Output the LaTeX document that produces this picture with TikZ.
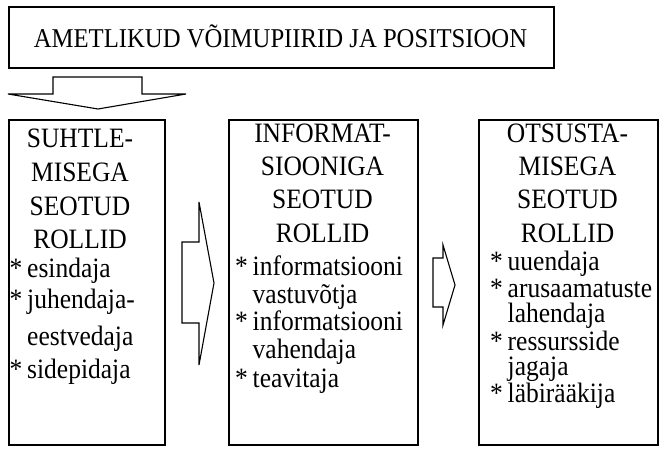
\documentclass[tikz,border=0pt]{standalone}
\usepackage{fontspec}
\setmainfont{Liberation Serif}
\newcommand\talltxt[1]{\scalebox{1}[1.1]{#1}}
\newcommand\bullettxt[1]{\talltxt{\makebox[17.5pt][l]{*}#1}}
\newcommand\contttxt[1]{\talltxt{\hspace*{17.5pt}#1}}
\begin{document}
\begin{tikzpicture}[x=1pt,y=-1pt,
  frame/.style={draw, line width=1.8pt, inner sep=0pt, anchor=north west},
  blockarrow/.style={draw, line width=1.1pt, line join=miter},
  headtxt/.style={inner sep=0pt, anchor=base, font=\fontsize{25.5}{30}\selectfont},
  itemtxt/.style={inner sep=0pt, anchor=base west, font=\fontsize{25.5}{30}\selectfont},
  toptxt/.style={inner sep=0pt, anchor=base, font=\fontsize{24.7}{30}\selectfont}]
\useasboundingbox (0,0) rectangle (661,452);

% top box
\node[frame, minimum width=545pt, minimum height=61pt] (top) at (8,6) {};
\node[toptxt] (toplabel) at (280.5,48) {\talltxt{AMETLIKUD VÕIMUPIIRID JA POSITSIOON}};

% down arrow
\draw[blockarrow] (53,77) -- (142,77) -- (142,94) -- (186,94) -- (98,109) -- (8,94) -- (53,94) -- cycle;

% boxes
\node[frame, minimum width=156pt, minimum height=325pt] (b1) at (8,119) {};
\node[frame, minimum width=189pt, minimum height=325pt] (b2) at (228,119) {};
\node[frame, minimum width=179pt, minimum height=325pt] (b3) at (478,119) {};

% right arrows
\draw[blockarrow] (182,242) -- (199,242) -- (199,202) -- (214,283) -- (199,365) -- (199,323) -- (182,323) -- cycle;
\draw[blockarrow] (433,258) -- (443,258) -- (443,245) -- (455,285) -- (443,325) -- (443,307) -- (433,307) -- cycle;

% box 1 text
\node[headtxt] (h11) at (80,147) {\talltxt{SUHTLE-}};
\node[headtxt] (h12) at (80,181) {\talltxt{MISEGA}};
\node[headtxt] (h13) at (80,215) {\talltxt{SEOTUD}};
\node[headtxt] (h14) at (80,248) {\talltxt{ROLLID}};
\node[itemtxt] (i11) at (9.5,277) {\bullettxt{esindaja}};
\node[itemtxt] (i12) at (9.5,308) {\bullettxt{juhendaja-}};
\node[itemtxt] (i13) at (9.5,345) {\contttxt{eestvedaja}};
\node[itemtxt] (i14) at (9.5,378) {\bullettxt{sidepidaja}};

% box 2 text
\node[headtxt] (h21) at (322.5,142) {\talltxt{INFORMAT-}};
\node[headtxt] (h22) at (322.5,175) {\talltxt{SIOONIGA}};
\node[headtxt] (h23) at (322.5,208) {\talltxt{SEOTUD}};
\node[headtxt] (h24) at (322.5,242) {\talltxt{ROLLID}};
\node[itemtxt] (i21) at (235,275) {\bullettxt{informatsiooni}};
\node[itemtxt] (i22) at (235,303) {\contttxt{vastuvõtja}};
\node[itemtxt] (i23) at (235,330) {\bullettxt{informatsiooni}};
\node[itemtxt] (i24) at (235,358) {\contttxt{vahendaja}};
\node[itemtxt] (i25) at (235,387) {\bullettxt{teavitaja}};

% box 3 text
\node[headtxt] (h31) at (567.5,142) {\talltxt{OTSUSTA-}};
\node[headtxt] (h32) at (567.5,175) {\talltxt{MISEGA}};
\node[headtxt] (h33) at (567.5,208) {\talltxt{SEOTUD}};
\node[headtxt] (h34) at (567.5,242) {\talltxt{ROLLID}};
\node[itemtxt] (i31) at (490,270) {\bullettxt{uuendaja}};
\node[itemtxt] (i32) at (490,297) {\bullettxt{arusaamatuste}};
\node[itemtxt] (i33) at (490,322.5) {\contttxt{lahendaja}};
\node[itemtxt] (i34) at (490,350) {\bullettxt{ressursside}};
\node[itemtxt] (i35) at (490,375.5) {\contttxt{jagaja}};
\node[itemtxt] (i36) at (490,402) {\bullettxt{läbirääkija}};
\end{tikzpicture}
\end{document}
